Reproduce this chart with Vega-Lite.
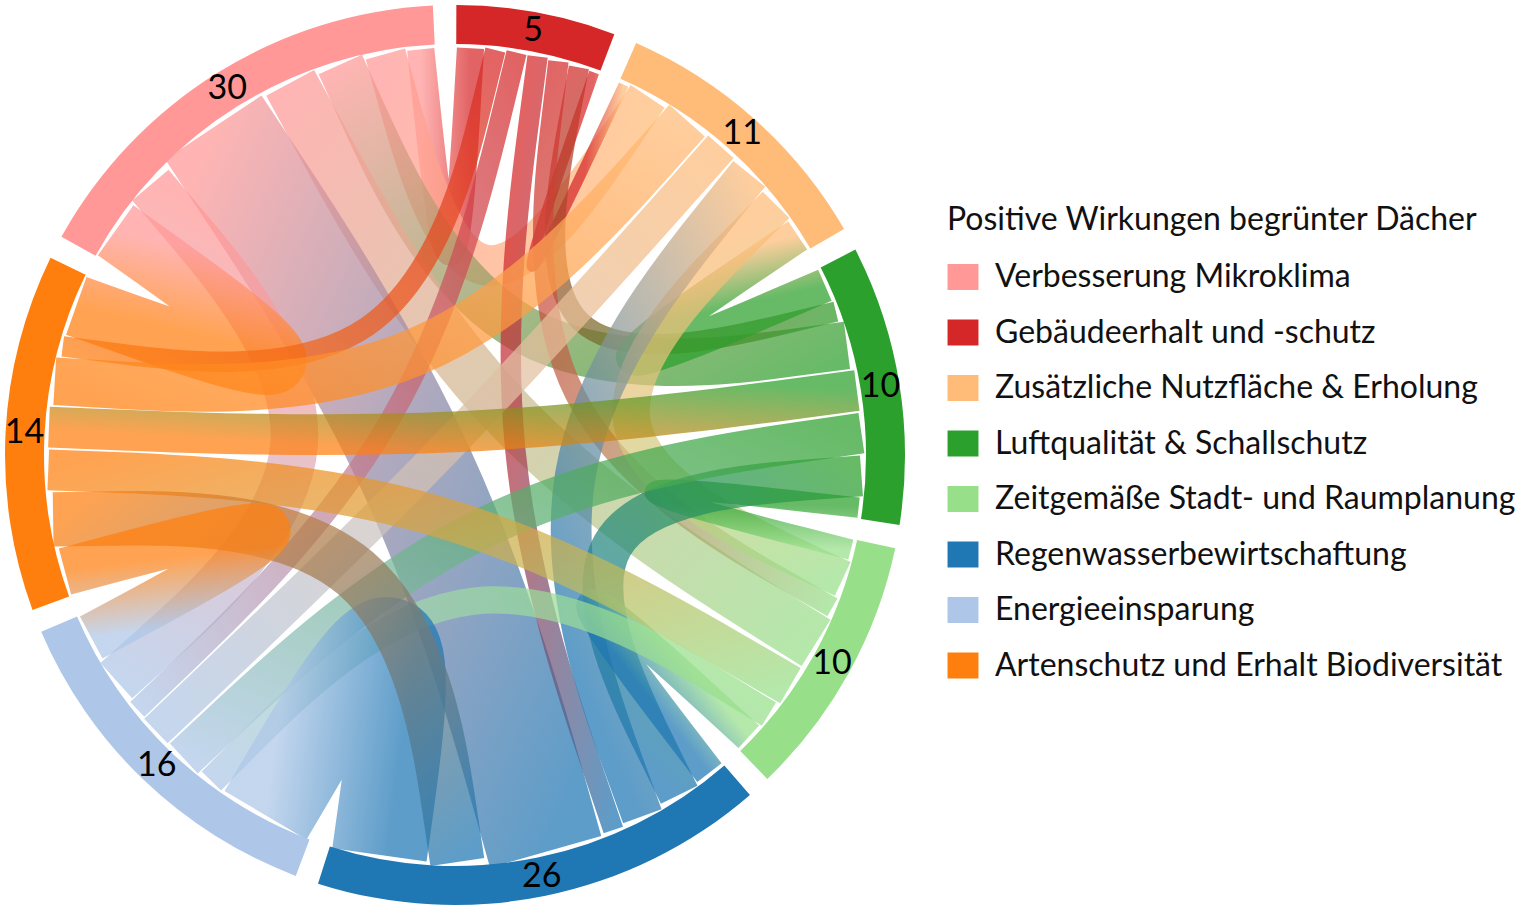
{
  "$schema": "https://vega.github.io/schema/vega-lite/v6.json",
  "width": 900,
  "height": 900,
  "autosize": {"type": "none"},
  "padding": {"left": 5, "top": 5, "right": 625, "bottom": 2},
  "background": "white",
  "config": {"view": {"stroke": null}},
  "datasets": {
    "groups": [
      {"name": "Verbesserung Mikroklima", "idx": 0, "n": 30},
      {"name": "Gebäudeerhalt und -schutz", "idx": 1, "n": 5},
      {"name": "Zusätzliche Nutzfläche & Erholung", "idx": 2, "n": 11},
      {"name": "Luftqualität & Schallschutz", "idx": 3, "n": 10},
      {"name": "Zeitgemäße Stadt- und Raumplanung", "idx": 4, "n": 10},
      {"name": "Regenwasserbewirtschaftung", "idx": 5, "n": 26},
      {"name": "Energieeinsparung", "idx": 6, "n": 16},
      {"name": "Artenschutz und Erhalt Biodiversität", "idx": 7, "n": 14}
    ],
    "chords": [
      {"id": 1, "s": "Verbesserung Mikroklima", "t": "Gebäudeerhalt und -schutz", "v": 4},
      {"id": 2, "s": "Verbesserung Mikroklima", "t": "Zusätzliche Nutzfläche & Erholung", "v": 6},
      {"id": 3, "s": "Verbesserung Mikroklima", "t": "Luftqualität & Schallschutz", "v": 7},
      {"id": 4, "s": "Verbesserung Mikroklima", "t": "Zeitgemäße Stadt- und Raumplanung", "v": 8},
      {"id": 5, "s": "Verbesserung Mikroklima", "t": "Regenwasserbewirtschaftung", "v": 17},
      {"id": 6, "s": "Verbesserung Mikroklima", "t": "Energieeinsparung", "v": 7},
      {"id": 7, "s": "Verbesserung Mikroklima", "t": "Artenschutz und Erhalt Biodiversität", "v": 9},
      {"id": 8, "s": "Gebäudeerhalt und -schutz", "t": "Zusätzliche Nutzfläche & Erholung", "v": 1.5},
      {"id": 9, "s": "Gebäudeerhalt und -schutz", "t": "Luftqualität & Schallschutz", "v": 3},
      {"id": 10, "s": "Gebäudeerhalt und -schutz", "t": "Zeitgemäße Stadt- und Raumplanung", "v": 3},
      {"id": 11, "s": "Gebäudeerhalt und -schutz", "t": "Regenwasserbewirtschaftung", "v": 3},
      {"id": 12, "s": "Gebäudeerhalt und -schutz", "t": "Energieeinsparung", "v": 3},
      {"id": 13, "s": "Gebäudeerhalt und -schutz", "t": "Artenschutz und Erhalt Biodiversität", "v": 3},
      {"id": 14, "s": "Zusätzliche Nutzfläche & Erholung", "t": "Luftqualität & Schallschutz", "v": 5},
      {"id": 15, "s": "Zusätzliche Nutzfläche & Erholung", "t": "Zeitgemäße Stadt- und Raumplanung", "v": 5.5},
      {"id": 16, "s": "Zusätzliche Nutzfläche & Erholung", "t": "Regenwasserbewirtschaftung", "v": 6},
      {"id": 17, "s": "Zusätzliche Nutzfläche & Erholung", "t": "Energieeinsparung", "v": 5},
      {"id": 18, "s": "Zusätzliche Nutzfläche & Erholung", "t": "Artenschutz und Erhalt Biodiversität", "v": 7},
      {"id": 19, "s": "Luftqualität & Schallschutz", "t": "Zeitgemäße Stadt- und Raumplanung", "v": 3},
      {"id": 20, "s": "Luftqualität & Schallschutz", "t": "Regenwasserbewirtschaftung", "v": 6},
      {"id": 21, "s": "Luftqualität & Schallschutz", "t": "Energieeinsparung", "v": 6},
      {"id": 22, "s": "Luftqualität & Schallschutz", "t": "Artenschutz und Erhalt Biodiversität", "v": 6},
      {"id": 23, "s": "Zeitgemäße Stadt- und Raumplanung", "t": "Regenwasserbewirtschaftung", "v": 4.5},
      {"id": 24, "s": "Zeitgemäße Stadt- und Raumplanung", "t": "Energieeinsparung", "v": 4},
      {"id": 25, "s": "Zeitgemäße Stadt- und Raumplanung", "t": "Artenschutz und Erhalt Biodiversität", "v": 6},
      {"id": 26, "s": "Regenwasserbewirtschaftung", "t": "Energieeinsparung", "v": 14},
      {"id": 27, "s": "Regenwasserbewirtschaftung", "t": "Artenschutz und Erhalt Biodiversität", "v": 8},
      {"id": 28, "s": "Energieeinsparung", "t": "Artenschutz und Erhalt Biodiversität", "v": 7}
    ]
  },
  "data": {"name": "chords"},
  "transform": [
    {"fold": ["s", "t"], "as": ["end", "grp"]},
    {"calculate": "datum.end == 's' ? datum.t : datum.s", "as": "oth"},
    {"lookup": "grp", "from": {"data": {"name": "groups"}, "key": "name", "fields": ["idx"]}, "as": ["gi"]},
    {"lookup": "oth", "from": {"data": {"name": "groups"}, "key": "name", "fields": ["idx"]}, "as": ["oi"]},
    {"calculate": "datum.gi * 10 + 8 - (datum.oi - datum.gi + 8) % 8", "as": "sk"},
    {"joinaggregate": [{"op": "sum", "field": "v", "as": "S"}]},
    {"window": [{"op": "sum", "field": "v", "as": "cum"}], "sort": [{"field": "sk", "order": "ascending"}], "frame": [null, 0]},
    {"calculate": "(2 * PI - 8 * PI / 60) / datum.S", "as": "u"},
    {"calculate": "-61 * PI / 180 + datum.gi * PI / 60 + (datum.cum - datum.v) * datum.u", "as": "th0"},
    {"calculate": "datum.th0 + datum.v * datum.u", "as": "th1"},
    {"calculate": "(datum.th0 + datum.th1) / 2", "as": "thm"}
  ],
  "layer": [
    {
      "transform": [
        {"calculate": "datum.end == 's' ? datum.thm : null", "as": "tA"},
        {"calculate": "datum.end == 't' ? datum.thm : null", "as": "tB"},
        {"calculate": "datum.end == 's' ? datum.gi : null", "as": "cA"},
        {"calculate": "datum.end == 't' ? datum.gi : null", "as": "cB"},
        {"aggregate": [
          {"op": "max", "field": "tA", "as": "A"},
          {"op": "max", "field": "tB", "as": "B"},
          {"op": "max", "field": "cA", "as": "ga"},
          {"op": "max", "field": "cB", "as": "gb"}
        ], "groupby": ["id", "v"]},
        {"calculate": "407 * sin(datum.A)", "as": "xa"},
        {"calculate": "407 * cos(datum.A)", "as": "ya"},
        {"calculate": "407 * sin(datum.B)", "as": "xb"},
        {"calculate": "407 * cos(datum.B)", "as": "yb"},
        {"calculate": "min(datum.xa, datum.xb, (datum.xa + datum.xb) / 4)", "as": "bx0"},
        {"calculate": "max(datum.xa, datum.xb, (datum.xa + datum.xb) / 4)", "as": "bx1"},
        {"calculate": "min(datum.ya, datum.yb, (datum.ya + datum.yb) / 4)", "as": "by0"},
        {"calculate": "max(datum.ya, datum.yb, (datum.ya + datum.yb) / 4)", "as": "by1"},
        {"calculate": "{gradient: 'linear', x1: (datum.xa - datum.bx0) / max(datum.bx1 - datum.bx0, 0.01), y1: (datum.by1 - datum.ya) / max(datum.by1 - datum.by0, 0.01), x2: (datum.xb - datum.bx0) / max(datum.bx1 - datum.bx0, 0.01), y2: (datum.by1 - datum.yb) / max(datum.by1 - datum.by0, 0.01), stops: [{offset: 0, color: ['#ff9896','#d62728','#ffbb78','#2ca02c','#98df8a','#1f77b4','#aec7e8','#ff7f0e'][datum.ga]}, {offset: 1, color: ['#ff9896','#d62728','#ffbb78','#2ca02c','#98df8a','#1f77b4','#aec7e8','#ff7f0e'][datum.gb]}]}", "as": "grad"},
        {"calculate": "[0, 1, 2]", "as": "ks"},
        {"flatten": ["ks"], "as": ["k"]},
        {"calculate": "datum.k == 0 ? datum.xa : (datum.k == 2 ? datum.xb : (datum.xa + datum.xb) / 8)", "as": "x"},
        {"calculate": "datum.k == 0 ? datum.ya : (datum.k == 2 ? datum.yb : (datum.ya + datum.yb) / 8)", "as": "y"}
      ],
      "mark": {"type": "line", "interpolate": "basis", "strokeOpacity": 0.72, "strokeCap": "butt"},
      "encoding": {
        "x": {"field": "x", "type": "quantitative", "scale": {"domain": [-450, 450], "nice": false, "zero": false}, "axis": null},
        "y": {"field": "y", "type": "quantitative", "scale": {"domain": [-450, 450], "nice": false, "zero": false}, "axis": null},
        "order": {"field": "k", "type": "quantitative"},
        "detail": {"field": "id", "type": "nominal"},
        "stroke": {"field": "grad", "type": "nominal", "scale": null, "legend": null},
        "strokeWidth": {"field": "v", "type": "quantitative", "scale": {"domain": [0, 10], "range": [0, 68], "nice": false}, "legend": null}
      }
    },
    {
      "transform": [
        {"aggregate": [{"op": "min", "field": "th0", "as": "a0"}, {"op": "max", "field": "th1", "as": "a1"}], "groupby": ["grp"]}
      ],
      "mark": {"type": "arc", "radius": 450, "radius2": 411},
      "encoding": {
        "theta": {"field": "a0", "type": "quantitative", "scale": null, "stack": null},
        "theta2": {"field": "a1"},
        "color": {
          "field": "grp",
          "type": "nominal",
          "scale": {
            "domain": ["Verbesserung Mikroklima", "Gebäudeerhalt und -schutz", "Zusätzliche Nutzfläche & Erholung", "Luftqualität & Schallschutz", "Zeitgemäße Stadt- und Raumplanung", "Regenwasserbewirtschaftung", "Energieeinsparung", "Artenschutz und Erhalt Biodiversität"],
            "range": ["#ff9896", "#d62728", "#ffbb78", "#2ca02c", "#98df8a", "#1f77b4", "#aec7e8", "#ff7f0e"]
          },
          "legend": {
            "title": "Positive Wirkungen begrünter Dächer",
            "orient": "none",
            "legendX": 942,
            "legendY": 200,
            "titleFont": "Lato",
            "titleFontSize": 32,
            "titleFontWeight": "normal",
            "titleColor": "#111111",
            "titleLimit": 1000,
            "titlePadding": 24,
            "labelFont": "Lato",
            "labelFontSize": 32,
            "labelColor": "#111111",
            "labelLimit": 0,
            "labelOffset": 16,
            "symbolType": "M-1.19,-1H1.19V1H-1.19Z",
            "symbolSize": 676,
            "symbolStrokeWidth": 0,
            "symbolOpacity": 1,
            "rowPadding": 23.5
          }
        }
      }
    },
    {
      "transform": [
        {"aggregate": [{"op": "min", "field": "th0", "as": "a0"}, {"op": "max", "field": "th1", "as": "a1"}], "groupby": ["grp"]},
        {"calculate": "(datum.a0 + datum.a1) / 2", "as": "mid"},
        {"lookup": "grp", "from": {"data": {"name": "groups"}, "key": "name", "fields": ["n"]}}
      ],
      "mark": {"type": "text", "radius": 431, "font": "Lato", "fontSize": 34, "color": "#000000", "align": "center", "baseline": "middle"},
      "encoding": {
        "theta": {"field": "mid", "type": "quantitative", "scale": null, "stack": null},
        "text": {"field": "n", "type": "quantitative"}
      }
    }
  ]
}
